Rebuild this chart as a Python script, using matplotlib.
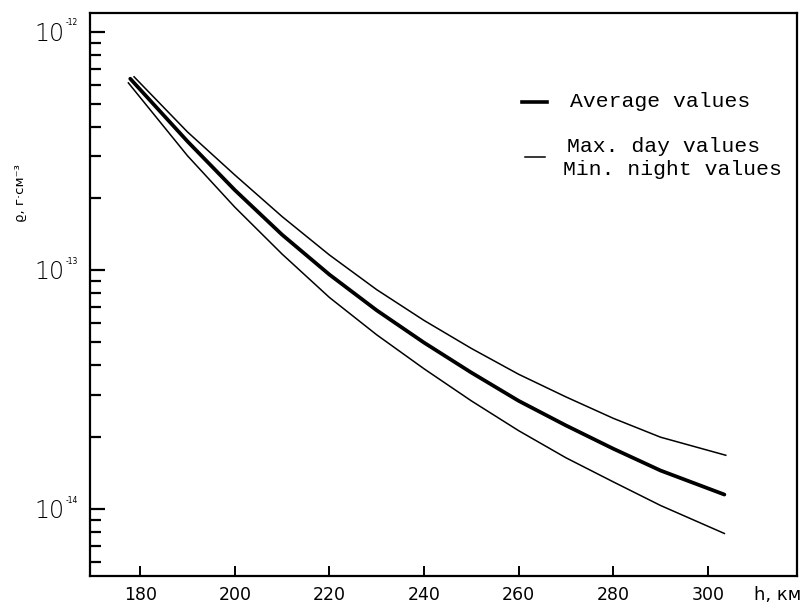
import matplotlib
matplotlib.use("Agg")
import matplotlib.pyplot as plt
from matplotlib.transforms import blended_transform_factory, offset_copy

# Data (h in km, density in g/cm^3)
h_avg = [177.9, 190, 200, 210, 220, 230, 240, 250, 260, 270, 280, 290, 303.5]
rho_avg = [6.35e-13, 3.47e-13, 2.17e-13, 1.41e-13, 9.6e-14, 6.8e-14, 4.98e-14,
           3.73e-14, 2.84e-14, 2.24e-14, 1.79e-14, 1.45e-14, 1.15e-14]

h_max = [178.7, 190, 200, 210, 220, 230, 240, 250, 260, 270, 280, 290, 303.8]
rho_max = [6.47e-13, 3.8e-13, 2.51e-13, 1.68e-13, 1.16e-13, 8.3e-14, 6.17e-14,
           4.71e-14, 3.67e-14, 2.95e-14, 2.40e-14, 2.0e-14, 1.68e-14]

h_min = [177.5, 190, 200, 210, 220, 230, 240, 250, 260, 270, 280, 290, 303.5]
rho_min = [6.1e-13, 3.02e-13, 1.84e-13, 1.17e-13, 7.7e-14, 5.37e-14, 3.87e-14,
           2.84e-14, 2.13e-14, 1.64e-14, 1.30e-14, 1.035e-14, 7.9e-15]

x_ticks = [180, 200, 220, 240, 260, 280, 300]
y_major = [1e-12, 1e-13, 1e-14]
y_exp = ["-12", "-13", "-14"]

fig = plt.figure(figsize=(8.04, 6.07), dpi=100)
ax = fig.add_axes([0.112, 0.051, 0.879, 0.928])

ax.plot(h_avg, rho_avg, color="black", lw=2.7, solid_capstyle="round")
ax.plot(h_max, rho_max, color="black", lw=1.1)
ax.plot(h_min, rho_min, color="black", lw=1.1)

ax.set_yscale("log")
ax.set_xlim(169.4, 318.8)
ax.set_ylim(5.24e-15, 1.2e-12)

for s in ax.spines.values():
    s.set_linewidth(1.6)

ax.set_xticks(x_ticks)
ax.set_xticklabels([str(v) for v in x_ticks], fontsize=12.5, family="DejaVu Sans")
ax.tick_params(axis="x", direction="in", length=7, width=1.4, pad=7, top=False)
ax.set_yticks(y_major)
ax.set_yticklabels([""] * len(y_major))
ax.tick_params(axis="y", which="major", direction="in", length=11, width=1.6, right=False)
ax.tick_params(axis="y", which="minor", direction="in", length=8, width=1.6, right=False)

trans = blended_transform_factory(ax.transAxes, ax.transData)
for v, e in zip(y_major, y_exp):
    t = offset_copy(trans, fig=fig, x=-25, y=-2, units="dots")
    ax.text(0, v, "10", transform=t, ha="right", va="center", fontsize=17,
            family="DejaVu Sans", fontweight="light")
    t2 = offset_copy(trans, fig=fig, x=-24, y=9, units="dots")
    ax.text(0, v, e, transform=t2, ha="left", va="center", fontsize=5.5,
            family="DejaVu Sans")

fig.text(0.026, 0.682, "ϱ, г·см⁻³", rotation=90, ha="center", va="center",
         fontsize=9.5, family="DejaVu Sans")
fig.text(0.996, 0.02, "h, км", ha="right", va="center", fontsize=13,
         family="DejaVu Sans")

# legend drawn manually
ax.plot([0.611, 0.646], [0.842, 0.842], transform=ax.transAxes, color="black", lw=2.6)
ax.plot([0.615, 0.644], [0.744, 0.744], transform=ax.transAxes, color="black", lw=1.1)
ax.text(0.679, 0.842, "Average values", transform=ax.transAxes, ha="left", va="center",
        fontsize=15.4, family="Liberation Mono")
ax.text(0.675, 0.762, "Max. day values", transform=ax.transAxes, ha="left", va="center",
        fontsize=15.4, family="Liberation Mono")
ax.text(0.669, 0.721, "Min. night values", transform=ax.transAxes, ha="left", va="center",
        fontsize=15.4, family="Liberation Mono")

fig.savefig("out.png", dpi=100)
